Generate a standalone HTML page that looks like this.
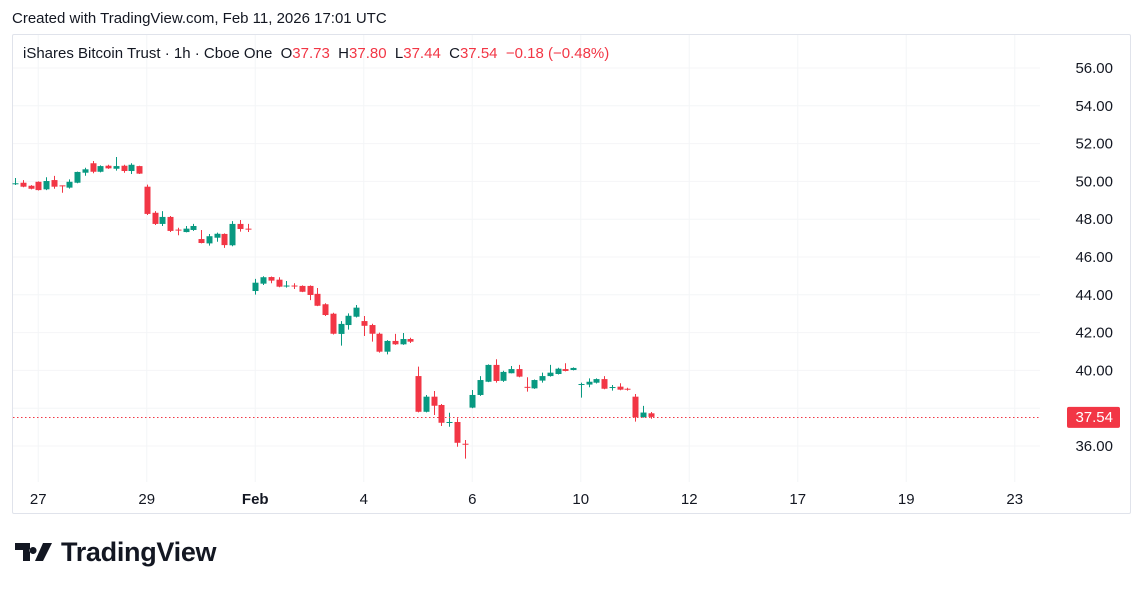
<!DOCTYPE html>
<html><head><meta charset="utf-8">
<style>
body{margin:0;width:1144px;height:591px;background:#fff;font-family:"Liberation Sans",sans-serif;overflow:hidden;position:relative}
#credit{position:absolute;left:12px;top:10px;font-size:15px;color:#131722}
#frame{position:absolute;left:12px;top:34px;width:1119px;height:480px;border:1px solid #e0e3eb;border-radius:2px;box-sizing:border-box}
#legend{position:absolute;left:23px;top:45px;font-size:15px;color:#131722;white-space:pre}
#legend .r{color:#f23645}
#logo{position:absolute;left:15px;top:537px;font-size:27px;font-weight:bold;color:#131722;letter-spacing:-0.3px}
svg{position:absolute;left:0;top:0}
</style></head><body>
<div id="credit">Created with TradingView.com, Feb 11, 2026 17:01 UTC</div>
<div id="frame"></div>
<svg id="chart" width="1144" height="591"></svg>
<div id="legend">iShares Bitcoin Trust · 1h · Cboe One  O<span class="r">37.73</span>  H<span class="r">37.80</span>  L<span class="r">37.44</span>  C<span class="r">37.54</span>  <span class="r">−0.18 (−0.48%)</span></div>
<div id="logo"><svg width="40" height="22" viewBox="0 0 40 22" style="position:relative;vertical-align:-2px;margin-right:6px"><path d="M0 2h15v18h-7V9H0z M18 6a3.5 3.5 0 1 0 0.1 0z M28 2h9l-9 18h-8z" fill="#131722"/></svg>TradingView</div>
<script>
const opens=[49.88,49.93,49.77,49.98,49.58,50.07,49.79,49.67,49.93,50.46,50.96,50.51,50.83,50.67,50.83,50.55,50.81,49.72,48.34,47.75,48.12,47.45,47.32,47.43,46.95,46.72,47.02,47.22,46.62,47.75,47.50,44.20,44.59,44.94,44.80,44.47,44.49,44.47,44.47,44.05,43.50,43.00,41.93,42.40,42.84,42.61,42.40,41.94,40.99,41.56,41.38,41.66,39.70,37.81,38.61,38.17,37.26,37.27,36.12,38.03,38.70,39.40,40.29,39.45,39.85,40.07,39.13,39.05,39.46,39.70,39.81,40.07,40.02,39.26,39.25,39.35,39.54,39.10,39.14,39.03,38.61,37.52,37.73];
const highs=[50.18,50.07,49.80,50.00,50.22,50.29,49.79,50.11,50.52,50.72,51.08,50.85,50.88,51.29,50.88,50.96,50.83,49.83,48.43,48.43,48.17,47.55,47.64,47.75,47.43,47.22,47.29,47.25,47.90,47.96,47.75,44.84,44.98,44.97,44.93,44.73,44.61,44.50,44.50,44.36,43.55,43.05,42.61,43.02,43.46,42.88,42.47,42.00,41.60,41.93,41.98,41.73,40.20,38.70,38.91,38.22,37.76,37.47,36.32,38.96,39.70,40.32,40.59,39.98,40.23,40.29,39.64,39.52,39.88,40.29,40.14,40.38,40.16,39.35,39.58,39.58,39.70,39.23,39.32,39.08,38.75,38.12,37.80];
const lows=[49.81,49.69,49.58,49.52,49.54,49.61,49.40,49.62,49.90,50.30,50.43,50.48,50.66,50.57,50.46,50.39,50.39,48.22,47.69,47.64,47.32,47.15,47.30,47.38,46.72,46.60,46.81,46.48,46.57,47.34,47.32,44.01,44.52,44.61,44.40,44.38,44.31,44.14,43.72,43.40,42.88,41.90,41.31,42.16,42.80,41.82,41.52,40.94,40.85,41.35,41.35,41.45,37.78,37.78,37.64,37.06,37.02,35.96,35.33,38.00,38.65,39.38,39.35,39.39,39.84,39.64,38.88,39.02,39.35,39.67,39.78,39.95,40.00,38.56,39.11,39.31,39.00,38.93,38.95,38.93,37.29,37.50,37.44];
const closes=[49.90,49.72,49.61,49.54,50.02,49.72,49.77,49.98,50.50,50.64,50.51,50.81,50.69,50.81,50.55,50.88,50.41,48.28,47.75,48.12,47.38,47.43,47.50,47.64,46.74,47.10,47.23,46.63,47.75,47.48,47.48,44.64,44.93,44.75,44.43,44.49,44.47,44.16,43.99,43.42,42.93,41.94,42.46,42.89,43.32,42.36,41.94,40.99,41.56,41.38,41.66,41.52,37.81,38.61,38.13,37.23,37.27,36.17,36.10,38.70,39.49,40.29,39.44,39.92,40.07,39.67,39.10,39.49,39.70,39.88,40.09,39.97,40.13,39.28,39.40,39.54,39.03,39.12,38.98,39.01,37.52,37.77,37.54];
const priceTicks=[36,38,40,42,44,46,48,50,52,54,56];
const dateLabels=["27","29","Feb","4","6","10","12","17","19","23"];
const dateSlots=[3,17,31,45,59,73,87,101,115,129];
const lastPrice=37.54;

const NS="http://www.w3.org/2000/svg";
const svg=document.getElementById('chart');
const y=p=>68+(56-p)*18.9;
const x=i=>15+i*7.75;
function mk(t,a){const e=document.createElementNS(NS,t);for(const k in a)e.setAttribute(k,a[k]);svg.appendChild(e);return e;}
priceTicks.forEach(p=>{
  const l=mk('line',{x1:13,x2:1040,y1:y(p),y2:y(p),stroke:'#f4f5f7','stroke-width':1});
  
  
  if(Math.abs(p-lastPrice)<0.9) return;
  const t=mk('text',{x:1113,y:y(p)+5,'text-anchor':'end','font-size':15,fill:'#131722','font-family':'Liberation Sans, sans-serif'});
  t.textContent=p.toFixed(2);
  
  
});
dateSlots.forEach((s,k)=>{
  const l=mk('line',{x1:x(s),x2:x(s),y1:35,y2:482,stroke:'#f4f5f7','stroke-width':1});
  
  
  const t=mk('text',{x:x(s),y:504,'text-anchor':'middle','font-size':15,fill:'#131722','font-weight':dateLabels[k]==='Feb'?'bold':'normal','font-family':'Liberation Sans, sans-serif'});
  t.textContent=dateLabels[k];
  
  
});
opens.forEach((o,i)=>{
  const c=closes[i],col=c>=o?'#089981':'#f23645',cx=Math.round(x(i))+0.5;
  const w=mk('line',{x1:cx,x2:cx,y1:y(highs[i]),y2:y(lows[i]),stroke:col,'stroke-width':1});
  
  
  const top=y(Math.max(o,c)),h=Math.max(1,y(Math.min(o,c))-top);
  const b=mk('rect',{x:cx-3,y:top,width:6,height:h,fill:col});
  
  
});
const pl=mk('line',{x1:13,x2:1040,y1:Math.round(y(lastPrice))+0.5,y2:Math.round(y(lastPrice))+0.5,stroke:'#f23645','stroke-width':1,'stroke-dasharray':'1.5 2.5'});


const lb=mk('rect',{x:1067,y:y(lastPrice)-10,width:53,height:21,rx:2,fill:'#f23645'});


const lt=mk('text',{x:1113,y:y(lastPrice)+5,'text-anchor':'end','font-size':15,fill:'#fff','font-family':'Liberation Sans, sans-serif'});
lt.textContent=lastPrice.toFixed(2);


</script>
</body></html>
